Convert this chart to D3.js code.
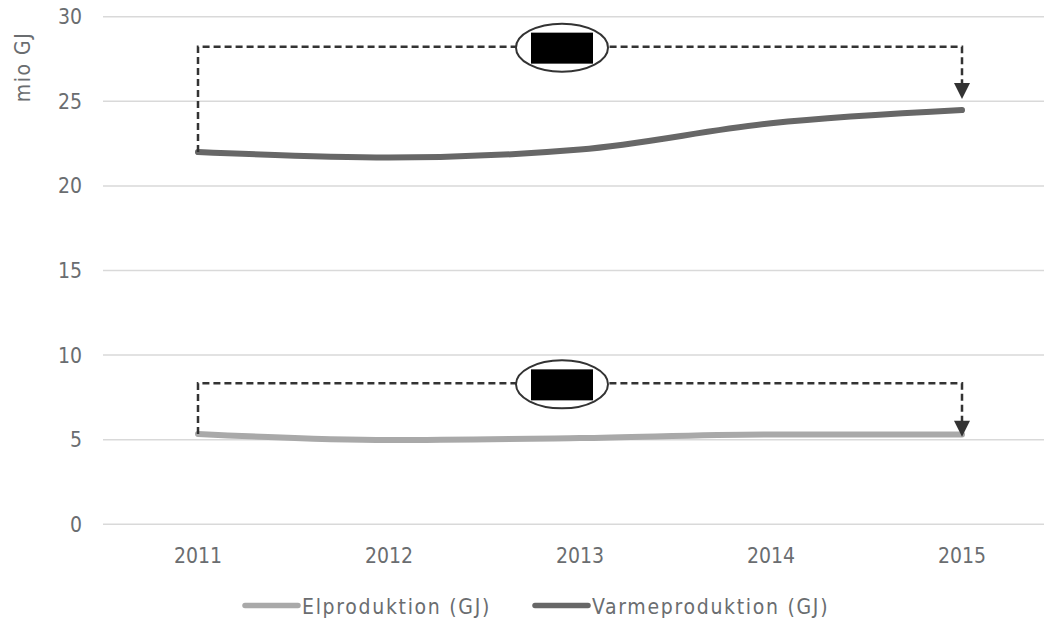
<!DOCTYPE html>
<html><head><meta charset="utf-8">
<script src="https://cdn.jsdelivr.net/npm/d3@7"></script>
<style>body{margin:0;background:#fff}svg{display:block}</style>
</head><body>
<script>
const years = ["2011","2012","2013","2014","2015"];
const elproduktion = [5.34, 4.98, 5.1, 5.31, 5.31];
const varmeproduktion = [22.0, 21.68, 22.15, 23.7, 24.48];
const yTicks = [0,5,10,15,20,25,30];
const seriesNames = ["Elproduktion (GJ)", "Varmeproduktion (GJ)"];
const seriesColors = ["#a9a9a9", "#676767"];
const yTitle = "mio GJ";
// annotation brackets: [startValue, topValue, arrowEndValue]
const bracketVarme = [22.0, 28.23, 25.13];
const bracketEl = [5.34, 8.33, 5.18];

const W = 1044, H = 627;
const svg = d3.select("body").append("svg").attr("width", W).attr("height", H);
const x = d3.scalePoint().domain(years).range([198, 962]);
const y = d3.scaleLinear().domain([0,30]).range([524.3, 16.7]);
const font = "'DejaVu Sans Condensed','DejaVu Sans',sans-serif";
const txt = "#6a6d70";

// gridlines
svg.append("g").selectAll("line").data(yTicks).join("line")
  .attr("x1", 103).attr("x2", 1044)
  .attr("y1", d => y(d)).attr("y2", d => y(d))
  .attr("stroke", "#d9d9d9").attr("stroke-width", 1.5);

// y tick labels
svg.append("g").selectAll("text").data(yTicks).join("text")
  .attr("x", 82).attr("y", d => y(d)).attr("dy", "0.36em")
  .attr("text-anchor", "end").attr("fill", txt)
  .style("font-family", font).style("font-size", "21px")
  .text(d => d);

// x labels
svg.append("g").selectAll("text").data(years).join("text")
  .attr("x", d => x(d)).attr("y", 563)
  .attr("text-anchor", "middle").attr("fill", txt)
  .style("font-family", font).style("font-size", "21px")
  .text(d => d);

// y title
svg.append("text").attr("transform", "translate(30,67) rotate(-90)")
  .attr("text-anchor", "middle").attr("fill", txt)
  .style("font-family", font).style("font-size", "21px").style("letter-spacing", "1.5px")
  .text(yTitle);

// lines
const line = d3.line().x((d,i) => x(years[i])).y(d => y(d)).curve(d3.curveMonotoneX);
[elproduktion, varmeproduktion].forEach((s, k) => {
  svg.append("path").attr("d", line(s)).attr("fill", "none")
    .attr("stroke", seriesColors[k]).attr("stroke-width", 6).attr("stroke-linecap", "round");
});

// brackets
function bracket(b) {
  const x0 = x(years[0]), x1 = x(years[years.length-1]);
  const yt = y(b[1]), tip = y(b[2]);
  svg.append("path")
    .attr("d", `M${x0},${y(b[0])} V${yt} H${x1} V${tip-14}`)
    .attr("fill", "none").attr("stroke", "#333").attr("stroke-width", 2.5)
    .attr("stroke-dasharray", "7,4");
  svg.append("path")
    .attr("d", `M${x1-8},${tip-16} L${x1+8},${tip-16} L${x1},${tip} Z`)
    .attr("fill", "#333");
  const cx = x(years[2]) - 18;
  svg.append("ellipse").attr("cx", cx).attr("cy", yt+1).attr("rx", 46).attr("ry", 24)
    .attr("fill", "#fff").attr("stroke", "#333").attr("stroke-width", 2);
  svg.append("rect").attr("x", cx-31).attr("y", yt-14).attr("width", 62).attr("height", 31)
    .attr("fill", "#000");
}
bracket(bracketVarme);
bracket(bracketEl);

// legend
const legX = [243, 533];
seriesNames.forEach((n, k) => {
  svg.append("line").attr("x1", legX[k]+2).attr("x2", legX[k]+55).attr("y1", 605.5).attr("y2", 605.5)
    .attr("stroke", seriesColors[k]).attr("stroke-width", 5.5).attr("stroke-linecap", "round");
  svg.append("text").attr("x", legX[k]+59).attr("y", 614)
    .attr("fill", txt).style("font-family", font).style("font-size", "21px")
    .style("letter-spacing", "1.7px").text(n);
});
</script>
</body></html>
